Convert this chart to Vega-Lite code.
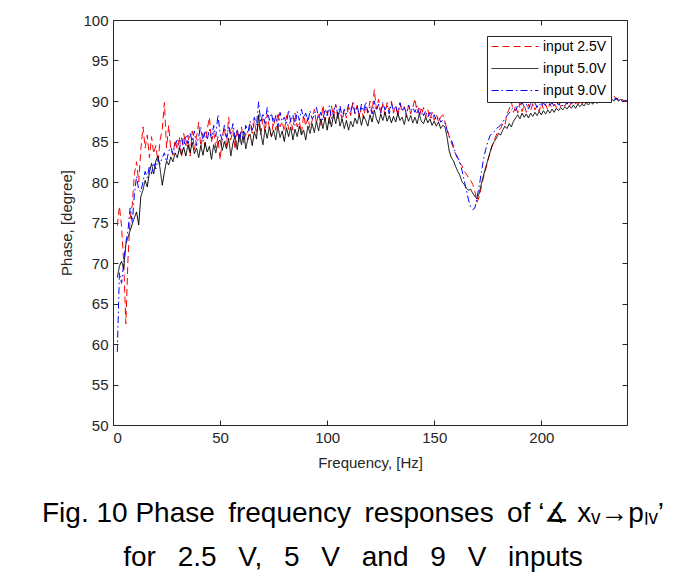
{
  "$schema": "https://vega.github.io/schema/vega-lite/v6.json",
  "width": 514,
  "height": 405,
  "autosize": {"type": "none"},
  "padding": {"left": 113, "top": 20, "right": 73, "bottom": 154},
  "background": "white",
  "title": {
    "text": ["Fig. 10 Phase\u2009 frequency\u2009 responses\u2009 of ‘∡ xᵥ→pₗᵥ’", "for\u2002 2.5\u2002 V,\u2002 5\u2002 V\u2002 and\u2002 9\u2002 V\u2002 inputs"],
    "orient": "bottom",
    "anchor": "middle",
    "frame": "group",
    "dx": -17,
    "offset": 30,
    "font": "Liberation Sans",
    "fontSize": 28,
    "fontWeight": "normal",
    "color": "#000000",
    "lineHeight": 44
  },
  "config": {
    "view": {"stroke": "#262626", "strokeWidth": 1},
    "axis": {
      "labelFont": "Liberation Sans",
      "titleFont": "Liberation Sans",
      "labelFontSize": 15,
      "titleFontSize": 15,
      "titleFontWeight": "normal",
      "labelColor": "#262626",
      "titleColor": "#262626",
      "domainColor": "#262626",
      "tickColor": "#262626",
      "grid": false
    }
  },
  "data": {
    "values": [
      {"f":2,"r":74.6,"k":68.2,"b":59.0},{"f":3,"r":77.0,"k":69.6,"b":68.8},{"f":4,"r":74.5,"k":70.2,"b":67.5},{"f":5,"r":70.0,"k":69.3,"b":70.0},
      {"f":6,"r":62.5,"k":72.3,"b":72.5},{"f":7,"r":70.5,"k":73.2,"b":74.0},{"f":8,"r":75.5,"k":74.0,"b":76.8},{"f":9,"r":77.2,"k":74.8,"b":75.0},
      {"f":10,"r":81.0,"k":75.6,"b":78.5},{"f":11,"r":82.5,"k":76.3,"b":80.7},{"f":12,"r":80.0,"k":74.7,"b":79.0},{"f":13,"r":84.0,"k":78.2,"b":78.8},
      {"f":14,"r":86.8,"k":79.0,"b":80.0},{"f":15,"r":84.2,"k":80.2,"b":81.3},{"f":16,"r":85.8,"k":79.4,"b":80.5},{"f":17,"r":83.0,"k":81.2,"b":82.0},
      {"f":18,"r":85.6,"k":82.3,"b":81.0},{"f":19,"r":83.5,"k":81.0,"b":82.4},{"f":20,"r":84.5,"k":82.6,"b":81.6},{"f":21,"r":82.5,"k":83.2,"b":82.8},
      {"f":22,"r":85.2,"k":81.6,"b":82.2},{"f":23,"r":86.5,"k":79.6,"b":83.0},{"f":24,"r":89.8,"k":81.2,"b":83.6},{"f":25,"r":84.2,"k":82.6,"b":82.5},
      {"f":26,"r":87.0,"k":82.1,"b":83.8},{"f":27,"r":84.0,"k":83.1,"b":84.3},{"f":28,"r":83.3,"k":82.5,"b":83.5},{"f":29,"r":85.2,"k":83.6,"b":84.6},
      {"f":30,"r":84.0,"k":83.0,"b":85.2},{"f":31,"r":85.6,"k":84.1,"b":84.0},{"f":32,"r":83.0,"k":83.4,"b":85.5},{"f":33,"r":86.0,"k":84.3,"b":84.2},
      {"f":34,"r":84.5,"k":83.2,"b":85.8},{"f":35,"r":85.8,"k":84.6,"b":84.7},{"f":36,"r":83.2,"k":83.6,"b":86.0},{"f":37,"r":86.3,"k":84.9,"b":85.0},
      {"f":38,"r":84.0,"k":83.5,"b":86.3},{"f":39,"r":85.5,"k":84.2,"b":84.5},{"f":40,"r":87.4,"k":83.0,"b":85.6},{"f":41,"r":84.3,"k":84.5,"b":86.8},
      {"f":42,"r":86.0,"k":83.3,"b":85.0},{"f":43,"r":84.5,"k":84.8,"b":86.2},{"f":44,"r":86.5,"k":83.7,"b":85.2},{"f":45,"r":88.0,"k":84.4,"b":86.5},
      {"f":46,"r":85.0,"k":82.8,"b":85.3},{"f":47,"r":86.2,"k":84.6,"b":87.0},{"f":48,"r":84.2,"k":83.6,"b":85.6},{"f":49,"r":85.6,"k":84.9,"b":88.3},
      {"f":50,"r":82.7,"k":85.2,"b":86.0},{"f":51,"r":85.5,"k":83.9,"b":85.2},{"f":52,"r":86.8,"k":85.0,"b":87.0},{"f":53,"r":84.5,"k":84.1,"b":85.5},
      {"f":54,"r":88.0,"k":85.4,"b":86.8},{"f":55,"r":85.2,"k":83.2,"b":85.8},{"f":56,"r":86.4,"k":84.8,"b":87.2},{"f":57,"r":84.0,"k":85.7,"b":85.5},
      {"f":58,"r":86.5,"k":84.0,"b":86.5},{"f":59,"r":85.0,"k":85.9,"b":85.0},{"f":60,"r":86.8,"k":84.6,"b":86.4},{"f":61,"r":84.8,"k":86.3,"b":85.2},
      {"f":62,"r":86.0,"k":84.1,"b":87.0},{"f":63,"r":85.2,"k":85.4,"b":86.0},{"f":64,"r":87.2,"k":85.9,"b":87.5},{"f":65,"r":86.0,"k":84.5,"b":86.4},
      {"f":66,"r":87.5,"k":86.2,"b":88.0},{"f":67,"r":86.0,"k":85.3,"b":87.0},{"f":68,"r":87.4,"k":88.3,"b":89.9},{"f":69,"r":85.8,"k":86.0,"b":87.3},
      {"f":70,"r":87.8,"k":84.6,"b":88.5},{"f":71,"r":86.2,"k":86.5,"b":87.2},{"f":72,"r":88.4,"k":85.4,"b":89.2},{"f":73,"r":86.6,"k":86.8,"b":87.6},
      {"f":74,"r":85.6,"k":85.6,"b":88.5},{"f":75,"r":87.9,"k":86.4,"b":87.0},{"f":76,"r":86.4,"k":85.2,"b":88.2},{"f":77,"r":88.6,"k":86.9,"b":86.8},
      {"f":78,"r":86.8,"k":85.5,"b":88.6},{"f":79,"r":87.5,"k":86.3,"b":87.5},{"f":80,"r":86.2,"k":85.0,"b":88.0},{"f":81,"r":88.2,"k":86.7,"b":87.2},
      {"f":82,"r":86.5,"k":85.6,"b":88.9},{"f":83,"r":87.8,"k":86.8,"b":87.4},{"f":84,"r":86.4,"k":85.2,"b":88.3},{"f":85,"r":88.5,"k":86.5,"b":87.0},
      {"f":86,"r":86.8,"k":85.6,"b":88.7},{"f":87,"r":87.5,"k":86.9,"b":87.6},{"f":88,"r":86.0,"k":85.8,"b":89.0},{"f":89,"r":88.3,"k":86.4,"b":87.8},
      {"f":90,"r":86.9,"k":85.2,"b":88.5},{"f":91,"r":88.0,"k":86.9,"b":87.4},{"f":92,"r":86.6,"k":86.0,"b":88.8},{"f":93,"r":87.6,"k":87.2,"b":87.8},
      {"f":94,"r":89.0,"k":86.1,"b":88.2},{"f":95,"r":87.2,"k":87.5,"b":89.2},{"f":96,"r":88.6,"k":86.3,"b":87.9},{"f":97,"r":87.0,"k":87.8,"b":88.6},
      {"f":98,"r":89.5,"k":86.6,"b":87.6},{"f":99,"r":87.6,"k":87.9,"b":89.0},{"f":100,"r":88.8,"k":86.4,"b":88.2},{"f":101,"r":87.2,"k":88.0,"b":89.4},
      {"f":102,"r":89.4,"k":86.8,"b":87.8},{"f":103,"r":88.0,"k":88.4,"b":88.8},{"f":104,"r":89.6,"k":87.2,"b":89.5},{"f":105,"r":87.8,"k":88.6,"b":88.3},
      {"f":106,"r":89.0,"k":86.9,"b":89.4},{"f":107,"r":87.5,"k":87.8,"b":88.0},{"f":108,"r":88.9,"k":86.6,"b":89.0},{"f":109,"r":87.9,"k":87.6,"b":88.4},
      {"f":110,"r":89.3,"k":86.4,"b":89.6},{"f":111,"r":88.2,"k":87.5,"b":88.6},{"f":112,"r":89.8,"k":86.8,"b":89.8},{"f":113,"r":88.4,"k":87.9,"b":88.5},
      {"f":114,"r":89.5,"k":87.2,"b":89.4},{"f":115,"r":88.0,"k":88.3,"b":88.2},{"f":116,"r":89.2,"k":87.0,"b":89.6},{"f":117,"r":87.8,"k":88.2,"b":88.7},
      {"f":118,"r":89.4,"k":87.6,"b":89.9},{"f":119,"r":88.5,"k":86.9,"b":88.6},{"f":120,"r":90.0,"k":88.3,"b":89.3},{"f":121,"r":88.6,"k":87.4,"b":88.4},
      {"f":122,"r":91.4,"k":88.9,"b":90.0},{"f":123,"r":89.0,"k":87.8,"b":88.8},{"f":124,"r":90.2,"k":87.2,"b":89.6},{"f":125,"r":88.5,"k":88.4,"b":88.5},
      {"f":126,"r":89.6,"k":87.6,"b":89.8},{"f":127,"r":88.3,"k":88.6,"b":88.9},{"f":128,"r":89.8,"k":87.5,"b":89.5},{"f":129,"r":88.8,"k":88.2,"b":88.4},
      {"f":130,"r":90.0,"k":87.3,"b":89.7},{"f":131,"r":88.5,"k":88.1,"b":88.8},{"f":132,"r":89.4,"k":87.4,"b":89.4},{"f":133,"r":88.2,"k":88.5,"b":88.5},
      {"f":134,"r":89.7,"k":87.6,"b":89.8},{"f":135,"r":88.6,"k":88.0,"b":88.9},{"f":136,"r":89.3,"k":87.1,"b":89.3},{"f":137,"r":88.0,"k":88.3,"b":88.4},
      {"f":138,"r":89.5,"k":87.5,"b":89.5},{"f":139,"r":88.4,"k":88.2,"b":88.7},{"f":140,"r":89.2,"k":87.3,"b":89.2},{"f":141,"r":90.3,"k":88.0,"b":88.6},
      {"f":142,"r":88.5,"k":87.2,"b":89.4},{"f":143,"r":89.4,"k":88.4,"b":88.4},{"f":144,"r":88.2,"k":87.5,"b":89.0},{"f":145,"r":89.2,"k":87.2,"b":88.2},
      {"f":146,"r":88.0,"k":88.0,"b":88.8},{"f":147,"r":88.9,"k":87.3,"b":88.0},{"f":148,"r":87.8,"k":87.8,"b":88.6},{"f":149,"r":88.6,"k":87.0,"b":87.8},
      {"f":150,"r":87.6,"k":87.5,"b":88.3},{"f":151,"r":88.4,"k":86.9,"b":87.6},{"f":152,"r":87.4,"k":87.4,"b":88.1},{"f":153,"r":88.0,"k":86.6,"b":87.4},
      {"f":154,"r":88.3,"k":87.0,"b":87.6},{"f":155,"r":87.4,"k":86.8,"b":87.3},{"f":156,"r":86.5,"k":85.5,"b":86.4},{"f":157,"r":85.6,"k":83.8,"b":85.6},
      {"f":158,"r":84.8,"k":83.0,"b":85.2},{"f":159,"r":84.2,"k":82.6,"b":84.4},{"f":160,"r":83.4,"k":81.9,"b":83.5},{"f":161,"r":82.8,"k":81.3,"b":83.0},
      {"f":162,"r":82.3,"k":80.8,"b":82.5},{"f":163,"r":82.0,"k":80.0,"b":81.4},{"f":164,"r":81.3,"k":79.7,"b":80.2},{"f":165,"r":81.0,"k":79.2,"b":79.0},
      {"f":166,"r":80.5,"k":79.0,"b":77.8},{"f":167,"r":80.2,"k":79.1,"b":76.9},{"f":168,"r":79.7,"k":78.6,"b":76.6},{"f":169,"r":78.8,"k":78.2,"b":76.8},
      {"f":170,"r":77.5,"k":77.9,"b":78.2},{"f":171,"r":78.2,"k":78.6,"b":79.5},{"f":172,"r":79.4,"k":79.8,"b":81.2},{"f":173,"r":80.6,"k":80.8,"b":82.8},
      {"f":174,"r":81.5,"k":81.8,"b":84.0},{"f":175,"r":82.6,"k":82.7,"b":84.9},{"f":176,"r":83.6,"k":83.6,"b":85.7},{"f":177,"r":84.4,"k":84.5,"b":86.0},
      {"f":178,"r":85.2,"k":85.0,"b":86.2},{"f":179,"r":85.8,"k":85.4,"b":86.6},{"f":180,"r":86.4,"k":86.0,"b":86.8},{"f":181,"r":86.6,"k":85.8,"b":87.0},
      {"f":182,"r":87.2,"k":86.4,"b":87.4},{"f":183,"r":87.0,"k":86.9,"b":87.8},{"f":184,"r":88.4,"k":86.6,"b":88.2},{"f":185,"r":89.0,"k":87.2,"b":88.5},
      {"f":186,"r":89.9,"k":86.8,"b":88.9},{"f":187,"r":88.6,"k":87.5,"b":89.2},{"f":188,"r":89.4,"k":87.9,"b":88.8},{"f":189,"r":88.5,"k":88.3,"b":89.5},
      {"f":190,"r":89.8,"k":87.8,"b":89.2},{"f":191,"r":88.7,"k":88.5,"b":89.8},{"f":192,"r":89.5,"k":88.0,"b":89.3},{"f":193,"r":88.6,"k":88.4,"b":89.6},
      {"f":194,"r":89.6,"k":87.9,"b":89.0},{"f":195,"r":88.8,"k":88.5,"b":89.7},{"f":196,"r":89.7,"k":88.1,"b":89.4},{"f":197,"r":88.9,"k":88.6,"b":89.8},
      {"f":198,"r":89.4,"k":88.2,"b":89.2},{"f":199,"r":88.7,"k":88.7,"b":89.7},{"f":200,"r":89.8,"k":88.3,"b":89.3},{"f":201,"r":89.0,"k":88.8,"b":89.8},
      {"f":202,"r":89.6,"k":88.4,"b":89.4},{"f":203,"r":88.9,"k":88.9,"b":89.9},{"f":204,"r":89.7,"k":88.5,"b":89.5},{"f":205,"r":89.1,"k":89.0,"b":89.8},
      {"f":206,"r":89.6,"k":88.6,"b":89.3},{"f":207,"r":89.2,"k":89.1,"b":89.9},{"f":208,"r":89.8,"k":88.8,"b":89.5},{"f":209,"r":89.3,"k":89.2,"b":89.8},
      {"f":210,"r":89.7,"k":88.9,"b":89.4},{"f":211,"r":89.4,"k":89.3,"b":89.9},{"f":212,"r":89.9,"k":89.0,"b":89.6},{"f":213,"r":89.3,"k":89.4,"b":90.0},
      {"f":214,"r":89.8,"k":89.1,"b":89.6},{"f":215,"r":89.5,"k":89.5,"b":89.9},{"f":216,"r":89.9,"k":89.1,"b":89.7},{"f":217,"r":89.6,"k":89.6,"b":90.0},
      {"f":218,"r":90.0,"k":89.3,"b":89.7},{"f":219,"r":89.6,"k":89.6,"b":90.0},{"f":220,"r":90.0,"k":89.4,"b":89.8},{"f":221,"r":89.7,"k":89.8,"b":90.1},
      {"f":222,"r":90.1,"k":89.5,"b":89.8},{"f":223,"r":89.8,"k":89.9,"b":90.1},{"f":224,"r":90.2,"k":89.6,"b":89.9},{"f":225,"r":89.9,"k":90.0,"b":90.2},
      {"f":226,"r":90.3,"k":89.7,"b":90.0},{"f":227,"r":90.0,"k":90.1,"b":90.3},{"f":228,"r":90.4,"k":89.8,"b":90.0},{"f":229,"r":90.1,"k":90.2,"b":90.3},
      {"f":230,"r":90.5,"k":89.9,"b":90.1},{"f":231,"r":90.2,"k":90.4,"b":90.5},{"f":232,"r":90.8,"k":90.3,"b":90.3},{"f":233,"r":90.4,"k":90.2,"b":90.4},
      {"f":234,"r":90.6,"k":90.0,"b":90.2},{"f":235,"r":90.2,"k":90.3,"b":90.4},{"f":236,"r":90.4,"k":90.0,"b":90.1},{"f":237,"r":90.1,"k":90.2,"b":90.3},
      {"f":238,"r":90.2,"k":89.9,"b":90.0},{"f":239,"r":89.9,"k":90.1,"b":90.1},{"f":240,"r":90.0,"k":89.9,"b":90.0}
    ]
  },
  "transform": [{"fold": ["r", "k", "b"], "as": ["series", "phase"]}],
  "resolve": {"axis": {"x": "independent", "y": "independent"}},
  "layer": [
    {
      "mark": {"type": "line", "strokeWidth": 1, "clip": true},
      "encoding": {
        "x": {
          "field": "f", "type": "quantitative",
          "scale": {"domain": [0, 240], "nice": false, "zero": false},
          "axis": {"values": [0, 50, 100, 150, 200], "title": "Frequency, [Hz]", "tickSize": -5, "labelPadding": 10, "titlePadding": 10, "domain": false}
        },
        "y": {
          "field": "phase", "type": "quantitative",
          "scale": {"domain": [50, 100], "nice": false, "zero": false},
          "axis": {"values": [50,55,60,65,70,75,80,85,90,95,100], "title": "Phase, [degree]", "tickSize": -5, "labelPadding": 10, "titlePadding": 8, "domain": false}
        },
        "color": {
          "field": "series", "type": "nominal",
          "scale": {"domain": ["r", "k", "b"], "range": ["#ff0000", "#000000", "#0000ff"]},
          "legend": {
            "title": null,
            "orient": "top-right",
            "offset": 16,
            "labelExpr": "datum.value == 'r' ? 'input 2.5V' : datum.value == 'k' ? 'input 5.0V' : 'input 9.0V'",
            "symbolType": "stroke",
            "symbolSize": 2200,
            "clipHeight": 13,
            "symbolStrokeWidth": 1,
            "labelFont": "Liberation Sans",
            "labelFontSize": 14,
            "labelColor": "#000000",
            "strokeColor": "#262626",
            "fillColor": "white",
            "padding": 4,
            "rowPadding": 7,
            "labelOffset": 4
          }
        },
        "strokeDash": {
          "field": "series", "type": "nominal",
          "scale": {"domain": ["r", "k", "b"], "range": [[7, 4], [1, 0], [7, 3, 1.5, 3]]},
          "legend": null
        },
        "order": {"field": "f", "type": "quantitative"}
      }
    },
    {
      "mark": {"type": "line", "opacity": 0},
      "encoding": {
        "x": {"field": "f", "type": "quantitative", "axis": {"orient": "top", "values": [0, 50, 100, 150, 200], "labels": false, "title": null, "tickSize": -5, "domain": false}},
        "y": {"field": "phase", "type": "quantitative", "axis": {"orient": "right", "values": [50,55,60,65,70,75,80,85,90,95,100], "labels": false, "title": null, "tickSize": -5, "domain": false}}
      }
    }
  ]
}
